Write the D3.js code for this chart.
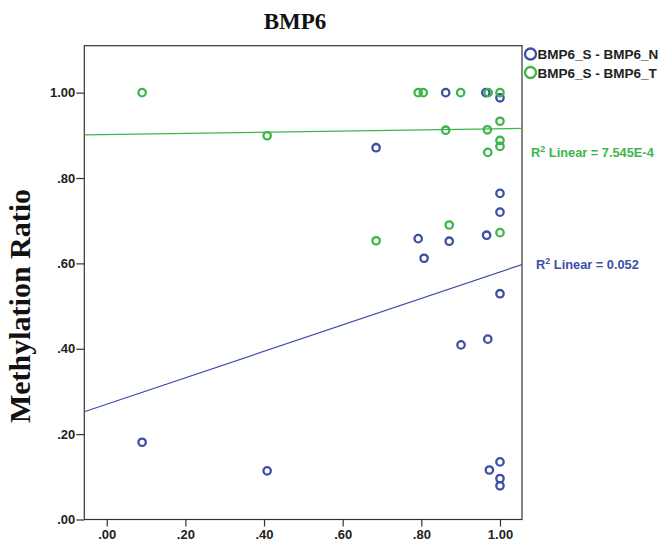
<!DOCTYPE html>
<html>
<head>
<meta charset="utf-8">
<script src="https://cdn.jsdelivr.net/npm/d3@7"></script>
<style>
  body { margin: 0; background: #fff; }
  svg { display: block; }
</style>
</head>
<body>
<div id="chart"></div>
<script>
// series: BMP6_S (x) against BMP6_N / BMP6_T (y)
const seriesNames = ["BMP6_S - BMP6_N", "BMP6_S - BMP6_T"];
const seriesColors = ["#3d4ea6", "#3cb54a"];

const nX = [0.09, 0.408, 0.685, 0.792, 0.807, 0.862, 0.871, 0.901, 0.964, 0.966,
            0.969, 0.973, 1.0, 1.0, 1.0, 1.0, 1.0, 1.0, 1.0];
const nY = [0.181, 0.114, 0.871, 0.658, 0.612, 1.0, 0.652, 0.409, 1.0, 0.666,
            0.4225, 0.116, 0.988, 0.764, 0.720, 0.529, 0.135, 0.096, 0.079];

const tX = [0.09, 0.408, 0.685, 0.792, 0.805, 0.862, 0.871, 0.90, 0.968, 0.969,
            0.970, 1.0, 1.0, 1.0, 1.0, 1.0];
const tY = [1.0, 0.899, 0.653, 1.0, 1.0, 0.912, 0.690, 1.0, 0.913, 0.860,
            1.0, 1.0, 0.933, 0.888, 0.874, 0.672];

// linear fit lines
const fitIntercepts = [0.27, 0.902];
const fitSlopes = [0.31, 0.0135];
const fitLabels = ["R\u00b2 Linear = 0.052", "R\u00b2 Linear = 7.545E-4"];

const tickValues = [0, 0.2, 0.4, 0.6, 0.8, 1.0];

const W = 666, H = 545;
const svg = d3.select("#chart").append("svg")
    .attr("width", W).attr("height", H);

const xScale = d3.scaleLinear().domain([-0.057, 1.056]).range([84.3, 522]);
const yScale = d3.scaleLinear().domain([0, 1.11]).range([519.5, 45.7]);

const fmt = d => d === 1 ? "1.00" : d3.format(".2f")(d).replace(/^0/, "");

// frame
svg.append("rect")
    .attr("x", xScale.range()[0]).attr("y", yScale.range()[1])
    .attr("width", xScale.range()[1] - xScale.range()[0])
    .attr("height", yScale.range()[0] - yScale.range()[1])
    .attr("fill", "none").attr("stroke", "#333").attr("stroke-width", 1.2);

const xAxis = svg.append("g")
    .attr("transform", `translate(0, ${yScale.range()[0]})`)
    .call(d3.axisBottom(xScale).tickValues(tickValues).tickFormat(fmt)
        .tickSize(7).tickSizeOuter(0));
const yAxis = svg.append("g")
    .attr("transform", `translate(${xScale.range()[0]}, 0)`)
    .call(d3.axisLeft(yScale).tickValues(tickValues).tickFormat(fmt)
        .tickSize(8).tickSizeOuter(0));

[xAxis, yAxis].forEach(g => {
    g.select(".domain").remove();
    g.selectAll("line").attr("stroke", "#333").attr("stroke-width", 1.2);
    g.selectAll("text")
        .attr("fill", "#222")
        .style("font-family", "'Liberation Sans', Arial, sans-serif")
        .style("font-weight", "bold")
        .style("font-size", "13px");
});
xAxis.selectAll("text").attr("y", 10);
yAxis.selectAll("text").attr("x", -9);

// fit lines (clipped to plot)
svg.append("clipPath").attr("id", "plotClip").append("rect")
    .attr("x", xScale.range()[0]).attr("y", yScale.range()[1])
    .attr("width", xScale.range()[1] - xScale.range()[0])
    .attr("height", yScale.range()[0] - yScale.range()[1]);

const xDom = xScale.domain();
const lineGen = d3.line().x(d => xScale(d[0])).y(d => yScale(d[1]));
fitIntercepts.forEach((b, i) => {
    const pts = xDom.map(x => [x, b + fitSlopes[i] * x]);
    svg.append("path")
        .attr("d", lineGen(pts))
        .attr("clip-path", "url(#plotClip)")
        .attr("fill", "none")
        .attr("stroke", seriesColors[i])
        .attr("stroke-width", 1.2);
});

// points
const series = [
    d3.zip(nX, nY),
    d3.zip(tX, tY)
];
series.forEach((pts, i) => {
    svg.append("g").selectAll("circle").data(pts).enter().append("circle")
        .attr("cx", d => xScale(d[0]))
        .attr("cy", d => yScale(d[1]))
        .attr("r", 3.7)
        .attr("fill", "none")
        .attr("stroke", seriesColors[i])
        .attr("stroke-width", 2.3);
});

// fit labels
const labelY = [269, 157];
fitLabels.forEach((t, i) => {
    const txt = svg.append("text")
        .attr("x", 531 + (i === 0 ? 5 : 0)).attr("y", labelY[i])
        .attr("fill", seriesColors[i])
        .style("font-family", "'Liberation Sans', Arial, sans-serif")
        .style("font-weight", "bold")
        .style("font-size", "12.8px");
    txt.append("tspan").text("R");
    txt.append("tspan").text("2").attr("dy", -5).style("font-size", "9px");
    txt.append("tspan").text(t.slice(2)).attr("dy", 5);
});

// legend
seriesNames.forEach((name, i) => {
    const y = 54 + i * 18.5;
    svg.append("circle")
        .attr("cx", 530.5).attr("cy", y).attr("r", 5.5)
        .attr("fill", "none").attr("stroke", seriesColors[i]).attr("stroke-width", 2.3);
    svg.append("text")
        .attr("x", 537.5).attr("y", y + 5)
        .attr("fill", "#222")
        .style("font-family", "'Liberation Sans', Arial, sans-serif")
        .style("font-weight", "bold")
        .style("font-size", "13.5px")
        .text(name);
});

// title
svg.append("text")
    .attr("x", 295).attr("y", 29)
    .attr("text-anchor", "middle")
    .attr("fill", "#111")
    .style("font-family", "'Liberation Serif', 'Times New Roman', serif")
    .style("font-weight", "bold")
    .style("font-size", "23px")
    .text("BMP6");

// y axis title
svg.append("text")
    .attr("transform", "translate(30, 306) rotate(-90)")
    .attr("text-anchor", "middle")
    .attr("fill", "#111")
    .style("font-family", "'Liberation Serif', 'Times New Roman', serif")
    .style("font-weight", "bold")
    .style("font-size", "30px")
    .text("Methylation Ratio");
</script>
</body>
</html>
